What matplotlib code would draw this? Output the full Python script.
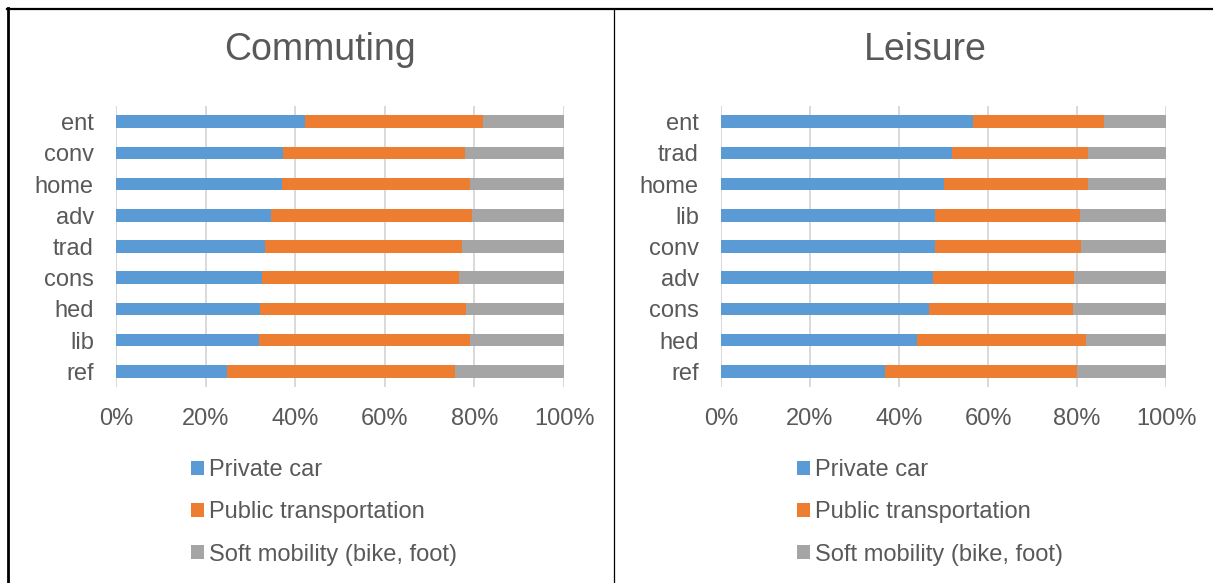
import numpy as np
import matplotlib.pyplot as plt
from matplotlib.lines import Line2D

plt.rcParams['font.family'] = ['Liberation Sans', 'DejaVu Sans']

# Share of each transport mode per lifestyle group (in %)
commuting_groups = ["ent", "conv", "home", "adv", "trad", "cons", "hed", "lib", "ref"]
commuting_car = [42.2, 37.3, 37.1, 34.7, 33.2, 32.7, 32.2, 32.0, 24.8]
commuting_public = [39.8, 40.5, 41.9, 44.8, 44.1, 43.9, 45.9, 47.0, 50.9]

leisure_groups = ["ent", "trad", "home", "lib", "conv", "adv", "cons", "hed", "ref"]
leisure_car = [56.6, 51.9, 50.0, 48.0, 48.0, 47.7, 46.7, 44.0, 36.8]
leisure_public = [29.4, 30.5, 32.5, 32.6, 32.9, 31.7, 32.4, 38.1, 43.1]

modes = ["Private car", "Public transportation", "Soft mobility (bike, foot)"]
colors = ["#5B9BD5", "#ED7D31", "#A5A5A5"]
text_color = "#595959"


def draw_panel(fig, rect, title, title_x, legend_x, groups, car, public):
    car = np.array(car)
    public = np.array(public)
    soft = 100 - car - public
    ax = fig.add_axes(rect)
    y = np.arange(len(groups))[::-1]
    left = np.zeros(len(groups))
    for values, color, label in zip([car, public, soft], colors, modes):
        ax.barh(y, values, left=left, height=0.4, color=color, label=label, zorder=3)
        left = left + values
    ax.set_xlim(0, 100)
    ax.set_ylim(-0.5, len(groups) - 0.5)
    ax.set_xticks(np.arange(0, 101, 20))
    ax.set_xticklabels(["{}%".format(v) for v in range(0, 101, 20)])
    ax.set_yticks(y)
    ax.set_yticklabels(groups)
    ax.tick_params(axis='both', length=0, labelsize=17, colors=text_color)
    ax.tick_params(axis='y', pad=16)
    ax.tick_params(axis='x', pad=15)
    ax.grid(axis='x', color="#D9D9D9", linewidth=1.4, zorder=0)
    for side in ax.spines.values():
        side.set_visible(False)
    fig.text(title_x, 1 - 50 / 583, title, fontsize=27, color=text_color,
             ha='center', va='center')
    handles, labels = ax.get_legend_handles_labels()
    fig.legend(handles, labels, loc='upper left',
               bbox_to_anchor=(legend_x, 1 - 459 / 583), frameon=False,
               fontsize=17, labelcolor=text_color, labelspacing=0.86,
               handlelength=0.55, handleheight=0.55, handletextpad=0.2,
               borderpad=0, borderaxespad=0)
    return ax


fig = plt.figure(figsize=(12.13, 5.83), dpi=100)
W, H = 1213.0, 583.0

draw_panel(fig, [116 / W, 196 / H, 448 / W, 281 / H], "Commuting", 320 / W, 191 / W,
           commuting_groups, commuting_car, commuting_public)
draw_panel(fig, [721 / W, 196 / H, 445 / W, 281 / H], "Leisure", 925 / W, 797 / W,
           leisure_groups, leisure_car, leisure_public)

# table-like frame around the two charts
fig.add_artist(Line2D([7 / W, 1.0], [1 - 9 / H, 1 - 9 / H], color='black', linewidth=1.6))
fig.add_artist(Line2D([8 / W, 8 / W], [0, 1 - 8 / H], color='black', linewidth=2.0))
fig.add_artist(Line2D([614 / W, 614 / W], [0, 1 - 9 / H], color='black', linewidth=0.9))

plt.savefig("out.png", dpi=100)
plt.close()
